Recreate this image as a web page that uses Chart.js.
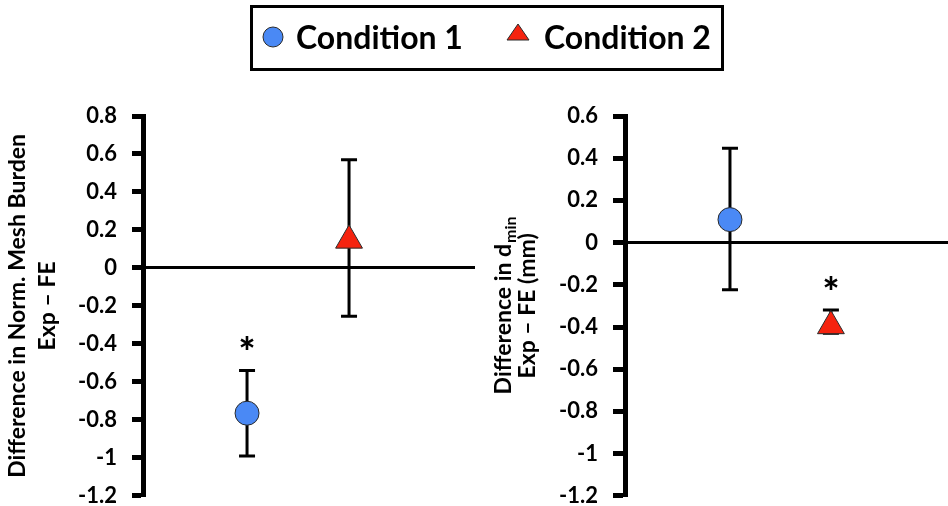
<!DOCTYPE html>
<html>
<head>
<meta charset="utf-8">
<script src="https://cdn.jsdelivr.net/npm/chart.js@4.4.1/dist/chart.umd.min.js"></script>
<style>
  body { margin: 0; background: #fff; }
  #wrap { position: relative; width: 948px; height: 506px; overflow: hidden; font-family: Lato, "Open Sans", sans-serif; }
  #left { position: absolute; left: 0; top: 0; }
  #right { position: absolute; left: 490px; top: 0; }
  #legend { position: absolute; left: 250px; top: 5px; width: 474px; height: 66px; border: 3px solid #000; box-sizing: border-box; }
  #legend .mk { position: absolute; }
  #legend .lb { position: absolute; top: 10px; line-height: 38px; font-size: 32px; font-weight: 700; color: #000; white-space: nowrap; }
</style>
</head>
<body>
<div id="wrap">
  <canvas id="left" width="490" height="524"></canvas>
  <canvas id="right" width="458" height="524"></canvas>
  <div id="legend"></div>
</div>
<script>
const conditions = ['Condition 1', 'Condition 2'];
const xSlots = [1, 2];

// normalized mesh burden (left panel)
const meshMean = [-0.765, 0.145];
const meshLow = [-0.99, -0.255];
const meshHigh = [-0.54, 0.57];
const meshStar = [true, false];
const meshRange = [-1.2, 0.8];

// d_min (right panel)
const dminMean = [0.109, -0.395];
const dminLow = [-0.223, -0.43];
const dminHigh = [0.447, -0.32];
const dminStar = [false, true];
const dminRange = [-1.2, 0.6];

const tickStep = 0.2;

const blue = '#4a89f5';
const red = '#f5230f';
const font = 'Lato, "Open Sans", sans-serif';

const errorBars = {
  id: 'errorBars',
  beforeDatasetsDraw(chart, args, opts) {
    const {ctx, scales: {x, y}} = chart;
    ctx.save();
    ctx.strokeStyle = '#000';
    ctx.lineWidth = 3;
    opts.low.forEach((lo, i) => {
      const px = x.getPixelForValue(xSlots[i]);
      const y1 = y.getPixelForValue(lo);
      const y2 = y.getPixelForValue(opts.high[i]);
      ctx.beginPath();
      ctx.moveTo(px, y1); ctx.lineTo(px, y2);
      ctx.moveTo(px - 8, y1); ctx.lineTo(px + 8, y1);
      ctx.moveTo(px - 8, y2); ctx.lineTo(px + 8, y2);
      ctx.stroke();
    });
    ctx.restore();
  },
  afterDatasetsDraw(chart, args, opts) {
    // significance stars above the upper whisker
    const {ctx, scales: {x, y}} = chart;
    ctx.save();
    ctx.fillStyle = '#000';
    ctx.font = '900 40px ' + font;
    ctx.textAlign = 'center';
    ctx.textBaseline = 'alphabetic';
    opts.star.forEach((s, i) => {
      if (!s) return;
      const px = x.getPixelForValue(xSlots[i]);
      const py = y.getPixelForValue(opts.high[i]) - 25;
      ctx.fillText('*', px, py + 22);
    });
    ctx.restore();
  }
};

// rotated title with a subscript, Chart.js titles can't do that
const subTitle = {
  id: 'subTitle',
  afterDraw(chart, args, opts) {
    if (!opts.lines) return;
    const {ctx, chartArea} = chart;
    const cy = (chartArea.top + chartArea.bottom) / 2;
    ctx.save();
    ctx.fillStyle = '#000';
    ctx.textBaseline = 'middle';
    opts.lines.forEach((ln, i) => {
      ctx.save();
      ctx.translate(opts.x[i], cy);
      ctx.rotate(-Math.PI / 2);
      ctx.font = '700 23px ' + font;
      const w1 = ctx.measureText(ln[0]).width;
      let w2 = 0;
      if (ln[1]) { ctx.font = '700 16px ' + font; w2 = ctx.measureText(ln[1]).width; }
      const start = -(w1 + w2) / 2;
      ctx.textAlign = 'left';
      ctx.font = '700 23px ' + font;
      ctx.fillText(ln[0], start, 0);
      if (ln[1]) { ctx.font = '700 16px ' + font; ctx.fillText(ln[1], start + w1 + 1, 7); }
      ctx.restore();
    });
    ctx.restore();
  }
};

function panel(el, mean, low, high, star, range, xRange, axisW, tickLen, padRight, title, sub) {
  return new Chart(document.getElementById(el), {
    type: 'scatter',
    data: {
      datasets: [
        {
          label: conditions[0],
          data: [{x: xSlots[0], y: mean[0]}],
          pointStyle: 'circle',
          pointRadius: 12,
          backgroundColor: blue,
          borderColor: '#2a2a2a',
          borderWidth: 1
        },
        {
          label: conditions[1],
          data: [{x: xSlots[1], y: mean[1]}],
          pointStyle: 'triangle',
          pointRadius: 15.5,
          backgroundColor: red,
          borderColor: '#2a2a2a',
          borderWidth: 1
        }
      ]
    },
    options: {
      responsive: false,
      animation: false,
      layout: { autoPadding: false, padding: { top: 116, bottom: 11, left: 0, right: padRight } },
      scales: {
        x: { type: 'linear', min: xRange[0], max: xRange[1], display: false },
        y: {
          min: range[0],
          max: range[1],
          afterFit: s => { s.width = axisW; },
          ticks: {
            stepSize: tickStep,
            padding: 15,
            color: '#000',
            font: { family: font, size: 22, weight: '700' },
            callback: v => String(Math.round(v * 10) / 10)
          },
          grid: {
            drawOnChartArea: true,
            color: c => (c.tick && Math.abs(c.tick.value) < 1e-9) ? '#000' : 'rgba(0,0,0,0)',
            lineWidth: 3,
            tickColor: '#000',
            tickWidth: 5,
            tickLength: tickLen
          },
          border: { display: true, color: '#000', width: 5 },
          title: title ? {
            display: true,
            text: title,
            color: '#000',
            font: { family: font, size: 23, weight: '700', lineHeight: 1.3 },
            padding: { top: 3, bottom: 0 }
          } : { display: false }
        }
      },
      plugins: {
        legend: { display: false },
        tooltip: { enabled: false },
        errorBars: { low: low, high: high, star: star },
        subTitle: sub || {}
      }
    },
    plugins: [errorBars, subTitle]
  });
}

panel('left', meshMean, meshLow, meshHigh, meshStar, meshRange, [-0.02, 3.235], 143, 11, 15,
  ['Difference in Norm. Mesh Burden', 'Exp \u2013 FE'], null);

panel('right', dminMean, dminLow, dminHigh, dminStar, dminRange, [-0.04, 3.16], 135, 12, 0,
  null, { lines: [['Difference in d', 'min'], ['Exp \u2013 FE (mm)']], x: [14, 38] });

// html legend
const legend = document.getElementById('legend');
const marks = [
  '<svg width="22" height="22"><circle cx="11" cy="11" r="10" fill="' + blue + '" stroke="#2a2a2a" stroke-width="1"/></svg>',
  '<svg width="24" height="18"><polygon points="12,1 23,17 1,17" fill="' + red + '" stroke="#2a2a2a" stroke-width="1"/></svg>'
];
const markPos = [[9, 18], [253, 15]];
const textPos = [43, 291];
conditions.forEach((name, i) => {
  const m = document.createElement('div');
  m.className = 'mk';
  m.style.left = markPos[i][0] + 'px';
  m.style.top = markPos[i][1] + 'px';
  m.innerHTML = marks[i];
  legend.appendChild(m);
  const t = document.createElement('div');
  t.className = 'lb';
  t.style.left = textPos[i] + 'px';
  t.textContent = name;
  legend.appendChild(t);
});
</script>
</body>
</html>
